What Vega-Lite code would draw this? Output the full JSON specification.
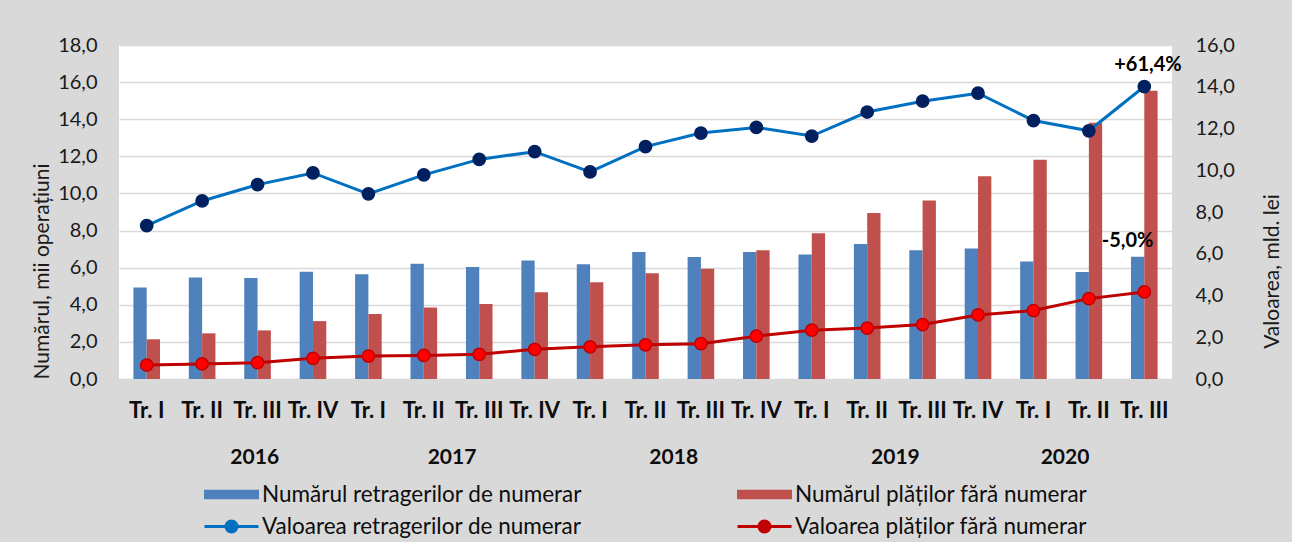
{
  "$schema": "https://vega.github.io/schema/vega-lite/v6.json",
  "width": 1053,
  "height": 334,
  "autosize": {"type": "none"},
  "padding": {"left": 119, "top": 45, "right": 120, "bottom": 163},
  "background": "#d9d9d9",
  "config": {
    "view": {"fill": "#ffffff", "stroke": null},
    "font": "Lato",
    "axis": {"labelFont": "Lato", "titleFont": "Lato", "labelColor": "#1a1a1a", "titleColor": "#1a1a1a", "titleFontWeight": "normal"}
  },
  "datasets": {
    "main": [
      {"q": "2016|Tr. I", "series": "Numărul retragerilor de numerar", "kind": "n", "value": 4.93},
      {"q": "2016|Tr. I", "series": "Numărul plăților fără numerar", "kind": "n", "value": 2.14},
      {"q": "2016|Tr. I", "series": "Valoarea retragerilor de numerar", "kind": "v", "value": 7.35},
      {"q": "2016|Tr. I", "series": "Valoarea plăților fără numerar", "kind": "v", "value": 0.67},
      {"q": "2016|Tr. II", "series": "Numărul retragerilor de numerar", "kind": "n", "value": 5.47},
      {"q": "2016|Tr. II", "series": "Numărul plăților fără numerar", "kind": "n", "value": 2.46},
      {"q": "2016|Tr. II", "series": "Valoarea retragerilor de numerar", "kind": "v", "value": 8.53},
      {"q": "2016|Tr. II", "series": "Valoarea plăților fără numerar", "kind": "v", "value": 0.72},
      {"q": "2016|Tr. III", "series": "Numărul retragerilor de numerar", "kind": "n", "value": 5.44},
      {"q": "2016|Tr. III", "series": "Numărul plăților fără numerar", "kind": "n", "value": 2.62},
      {"q": "2016|Tr. III", "series": "Valoarea retragerilor de numerar", "kind": "v", "value": 9.31},
      {"q": "2016|Tr. III", "series": "Valoarea plăților fără numerar", "kind": "v", "value": 0.78},
      {"q": "2016|Tr. IV", "series": "Numărul retragerilor de numerar", "kind": "n", "value": 5.78},
      {"q": "2016|Tr. IV", "series": "Numărul plăților fără numerar", "kind": "n", "value": 3.12},
      {"q": "2016|Tr. IV", "series": "Valoarea retragerilor de numerar", "kind": "v", "value": 9.87},
      {"q": "2016|Tr. IV", "series": "Valoarea plăților fără numerar", "kind": "v", "value": 0.99},
      {"q": "2017|Tr. I", "series": "Numărul retragerilor de numerar", "kind": "n", "value": 5.65},
      {"q": "2017|Tr. I", "series": "Numărul plăților fără numerar", "kind": "n", "value": 3.50},
      {"q": "2017|Tr. I", "series": "Valoarea retragerilor de numerar", "kind": "v", "value": 8.87},
      {"q": "2017|Tr. I", "series": "Valoarea plăților fără numerar", "kind": "v", "value": 1.10},
      {"q": "2017|Tr. II", "series": "Numărul retragerilor de numerar", "kind": "n", "value": 6.21},
      {"q": "2017|Tr. II", "series": "Numărul plăților fără numerar", "kind": "n", "value": 3.86},
      {"q": "2017|Tr. II", "series": "Valoarea retragerilor de numerar", "kind": "v", "value": 9.78},
      {"q": "2017|Tr. II", "series": "Valoarea plăților fără numerar", "kind": "v", "value": 1.13},
      {"q": "2017|Tr. III", "series": "Numărul retragerilor de numerar", "kind": "n", "value": 6.03},
      {"q": "2017|Tr. III", "series": "Numărul plăților fără numerar", "kind": "n", "value": 4.04},
      {"q": "2017|Tr. III", "series": "Valoarea retragerilor de numerar", "kind": "v", "value": 10.52},
      {"q": "2017|Tr. III", "series": "Valoarea plăților fără numerar", "kind": "v", "value": 1.18},
      {"q": "2017|Tr. IV", "series": "Numărul retragerilor de numerar", "kind": "n", "value": 6.39},
      {"q": "2017|Tr. IV", "series": "Numărul plăților fără numerar", "kind": "n", "value": 4.67},
      {"q": "2017|Tr. IV", "series": "Valoarea retragerilor de numerar", "kind": "v", "value": 10.89},
      {"q": "2017|Tr. IV", "series": "Valoarea plăților fără numerar", "kind": "v", "value": 1.42},
      {"q": "2018|Tr. I", "series": "Numărul retragerilor de numerar", "kind": "n", "value": 6.19},
      {"q": "2018|Tr. I", "series": "Numărul plăților fără numerar", "kind": "n", "value": 5.22},
      {"q": "2018|Tr. I", "series": "Valoarea retragerilor de numerar", "kind": "v", "value": 9.92},
      {"q": "2018|Tr. I", "series": "Valoarea plăților fără numerar", "kind": "v", "value": 1.54},
      {"q": "2018|Tr. II", "series": "Numărul retragerilor de numerar", "kind": "n", "value": 6.85},
      {"q": "2018|Tr. II", "series": "Numărul plăților fără numerar", "kind": "n", "value": 5.70},
      {"q": "2018|Tr. II", "series": "Valoarea retragerilor de numerar", "kind": "v", "value": 11.13},
      {"q": "2018|Tr. II", "series": "Valoarea plăților fără numerar", "kind": "v", "value": 1.64},
      {"q": "2018|Tr. III", "series": "Numărul retragerilor de numerar", "kind": "n", "value": 6.57},
      {"q": "2018|Tr. III", "series": "Numărul plăților fără numerar", "kind": "n", "value": 5.94},
      {"q": "2018|Tr. III", "series": "Valoarea retragerilor de numerar", "kind": "v", "value": 11.78},
      {"q": "2018|Tr. III", "series": "Valoarea plăților fără numerar", "kind": "v", "value": 1.69},
      {"q": "2018|Tr. IV", "series": "Numărul retragerilor de numerar", "kind": "n", "value": 6.84},
      {"q": "2018|Tr. IV", "series": "Numărul plăților fără numerar", "kind": "n", "value": 6.94},
      {"q": "2018|Tr. IV", "series": "Valoarea retragerilor de numerar", "kind": "v", "value": 12.05},
      {"q": "2018|Tr. IV", "series": "Valoarea plăților fără numerar", "kind": "v", "value": 2.05},
      {"q": "2019|Tr. I", "series": "Numărul retragerilor de numerar", "kind": "n", "value": 6.71},
      {"q": "2019|Tr. I", "series": "Numărul plăților fără numerar", "kind": "n", "value": 7.86},
      {"q": "2019|Tr. I", "series": "Valoarea retragerilor de numerar", "kind": "v", "value": 11.64},
      {"q": "2019|Tr. I", "series": "Valoarea plăților fără numerar", "kind": "v", "value": 2.34},
      {"q": "2019|Tr. II", "series": "Numărul retragerilor de numerar", "kind": "n", "value": 7.28},
      {"q": "2019|Tr. II", "series": "Numărul plăților fără numerar", "kind": "n", "value": 8.94},
      {"q": "2019|Tr. II", "series": "Valoarea retragerilor de numerar", "kind": "v", "value": 12.79},
      {"q": "2019|Tr. II", "series": "Valoarea plăților fără numerar", "kind": "v", "value": 2.44},
      {"q": "2019|Tr. III", "series": "Numărul retragerilor de numerar", "kind": "n", "value": 6.94},
      {"q": "2019|Tr. III", "series": "Numărul plăților fără numerar", "kind": "n", "value": 9.62},
      {"q": "2019|Tr. III", "series": "Valoarea retragerilor de numerar", "kind": "v", "value": 13.31},
      {"q": "2019|Tr. III", "series": "Valoarea plăților fără numerar", "kind": "v", "value": 2.61},
      {"q": "2019|Tr. IV", "series": "Numărul retragerilor de numerar", "kind": "n", "value": 7.03},
      {"q": "2019|Tr. IV", "series": "Numărul plăților fără numerar", "kind": "n", "value": 10.93},
      {"q": "2019|Tr. IV", "series": "Valoarea retragerilor de numerar", "kind": "v", "value": 13.69},
      {"q": "2019|Tr. IV", "series": "Valoarea plăților fără numerar", "kind": "v", "value": 3.07},
      {"q": "2020|Tr. I", "series": "Numărul retragerilor de numerar", "kind": "n", "value": 6.33},
      {"q": "2020|Tr. I", "series": "Numărul plăților fără numerar", "kind": "n", "value": 11.82},
      {"q": "2020|Tr. I", "series": "Valoarea retragerilor de numerar", "kind": "v", "value": 12.38},
      {"q": "2020|Tr. I", "series": "Valoarea plăților fără numerar", "kind": "v", "value": 3.28},
      {"q": "2020|Tr. II", "series": "Numărul retragerilor de numerar", "kind": "n", "value": 5.76},
      {"q": "2020|Tr. II", "series": "Numărul plăților fără numerar", "kind": "n", "value": 13.81},
      {"q": "2020|Tr. II", "series": "Valoarea retragerilor de numerar", "kind": "v", "value": 11.89},
      {"q": "2020|Tr. II", "series": "Valoarea plăților fără numerar", "kind": "v", "value": 3.85},
      {"q": "2020|Tr. III", "series": "Numărul retragerilor de numerar", "kind": "n", "value": 6.59, "note": "-5,0%"},
      {"q": "2020|Tr. III", "series": "Numărul plăților fără numerar", "kind": "n", "value": 15.53, "note": "+61,4%"},
      {"q": "2020|Tr. III", "series": "Valoarea retragerilor de numerar", "kind": "v", "value": 14.01},
      {"q": "2020|Tr. III", "series": "Valoarea plăților fără numerar", "kind": "v", "value": 4.17}
    ],
    "years": [
      {"year": 2016}, {"year": 2017}, {"year": 2018}, {"year": 2019}, {"year": 2020}
    ]
  },
  "layer": [
    {
      "data": {"name": "main"},
      "layer": [
        {
          "transform": [{"filter": "datum.kind == 'n'"}],
          "encoding": {
            "x": {
              "field": "q", "type": "nominal", "sort": null,
              "scale": {"paddingInner": 0.52, "paddingOuter": 0.26},
              "axis": {
                "title": null, "labelExpr": "split(datum.label, '|')[1]",
                "labelFontSize": 22, "labelFontWeight": "bold", "labelAngle": 0,
                "ticks": false, "domain": false, "labelPadding": 21,
                "labelOverlap": false, "labelBound": false, "grid": false, "labelColor": "#0d0d0d"
              }
            },
            "xOffset": {"field": "series", "type": "nominal", "sort": ["Numărul retragerilor de numerar", "Numărul plăților fără numerar"], "scale": {"paddingInner": 0}},
            "y": {
              "field": "value", "type": "quantitative",
              "scale": {"domain": [0, 18], "nice": false},
              "axis": {
                "title": "Numărul, mii operațiuni",
                "values": [0, 2, 4, 6, 8, 10, 12, 14, 16, 18],
                "tickCount": 10,
                "labelExpr": "replace(format(datum.value, '.1f'), '.', ',')",
                "labelFontSize": 20, "titleFontSize": 21, "labelOverlap": false,
                "grid": true, "gridColor": "#d9d9d9", "gridWidth": 1.5,
                "ticks": false, "domain": false, "labelPadding": 22,
                "titleX": -77, "titleY": 226, "titleAngle": 270, "titleAlign": "center", "titleBaseline": "middle"
              }
            }
          },
          "layer": [
            {
              "mark": {"type": "bar"},
              "encoding": {
                "color": {
                  "field": "series", "type": "nominal",
                  "scale": {
                    "domain": ["Numărul retragerilor de numerar", "Numărul plăților fără numerar", "Valoarea retragerilor de numerar", "Valoarea plăților fără numerar"],
                    "range": ["#4F81BD", "#C0504D", "#0070C0", "#C00000"]
                  },
                  "legend": {
                    "title": null, "orient": "none", "legendX": 101, "legendY": 438,
                    "direction": "horizontal", "columns": 2,
                    "symbolSize": 400, "labelFontSize": 22.5, "labelFont": "Lato", "labelColor": "#0d0d0d",
                    "labelLimit": 500, "labelOffset": 19, "columnPadding": 149, "rowPadding": 9,
                    "symbolStrokeWidth": 3,
                    "encode": {
                      "symbols": {
                        "update": {
                          "shape": {"signal": "indexof(datum.value, 'Numărul') == 0 ? 'M-2.6,-0.33H2.6V0.33H-2.6Z' : 'M-2.7,0H-0.55M0.55,0H2.7M0.55,0A0.55,0.55 0 1 1 -0.55,0A0.55,0.55 0 1 1 0.55,0Z'"},
                          "fill": {"signal": "datum.value == 'Numărul retragerilor de numerar' ? '#4F81BD' : datum.value == 'Numărul plăților fără numerar' ? '#C0504D' : datum.value == 'Valoarea retragerilor de numerar' ? '#002060' : '#FF0000'"},
                          "stroke": {"signal": "datum.value == 'Valoarea retragerilor de numerar' ? '#0070C0' : datum.value == 'Valoarea plăților fără numerar' ? '#C00000' : 'transparent'"},
                          "strokeWidth": {"value": 3},
                          "fillOpacity": {"value": 1},
                          "strokeOpacity": {"value": 1},
                          "opacity": {"value": 1}
                        }
                      }
                    }
                  }
                }
              }
            },
            {
              "transform": [{"filter": "datum.note != null && datum.series == 'Numărul plăților fără numerar'"}],
              "mark": {"type": "text", "fontWeight": "bold", "fontSize": 20, "font": "Lato", "dx": -3, "dy": -20, "baseline": "alphabetic", "align": "center", "color": "#000000"},
              "encoding": {"text": {"field": "note"}}
            },
            {
              "transform": [{"filter": "datum.note != null && datum.series == 'Numărul retragerilor de numerar'"}],
              "mark": {"type": "text", "fontWeight": "bold", "fontSize": 20, "font": "Lato", "dx": -10, "dy": -10, "baseline": "alphabetic", "align": "center", "color": "#000000"},
              "encoding": {"text": {"field": "note"}}
            }
          ]
        },
        {
          "transform": [{"filter": "datum.kind == 'v'"}],
          "encoding": {
            "x": {"field": "q", "type": "nominal", "sort": null},
            "y": {
              "field": "value", "type": "quantitative",
              "scale": {"domain": [0, 16], "nice": false},
              "axis": {
                "orient": "right", "title": "Valoarea, mld. lei",
                "values": [0, 2, 4, 6, 8, 10, 12, 14, 16],
                "labelExpr": "replace(format(datum.value, '.1f'), '.', ',')",
                "labelFontSize": 20, "titleFontSize": 21, "grid": false, "labelOverlap": false,
                "ticks": false, "domain": false, "labelPadding": 23,
                "titleX": 100, "titleY": 226, "titleAngle": 270, "titleAlign": "center", "titleBaseline": "middle"
              }
            }
          },
          "layer": [
            {
              "mark": {"type": "line", "strokeWidth": 3},
              "encoding": {"color": {"field": "series", "type": "nominal"}}
            },
            {
              "mark": {"type": "point", "filled": true, "size": 150, "strokeWidth": 1.5, "opacity": 1},
              "encoding": {
                "fill": {
                  "field": "series", "type": "nominal",
                  "scale": {"domain": ["Valoarea retragerilor de numerar", "Valoarea plăților fără numerar"], "range": ["#002060", "#FF0000"]},
                  "legend": null
                },
                "stroke": {
                  "field": "series", "type": "nominal",
                  "scale": {"domain": ["Valoarea retragerilor de numerar", "Valoarea plăților fără numerar"], "range": ["#002060", "#C00000"]},
                  "legend": null
                }
              }
            }
          ]
        }
      ],
      "resolve": {"scale": {"y": "independent"}}
    },
    {
      "data": {"name": "years"},
      "mark": {"type": "point", "opacity": 0},
      "encoding": {
        "x": {
          "field": "year", "type": "quantitative",
          "scale": {"domain": [2016, 2019, 2020], "range": [{"expr": "width * 2 / 19"}, {"expr": "width * 14 / 19"}, {"expr": "width * 17.5 / 19"}], "nice": false, "zero": false},
          "axis": {
            "orient": "bottom", "title": null, "values": [2016, 2017, 2018, 2019, 2020], "format": "d",
            "labelFontSize": 21, "labelFontWeight": "bold", "ticks": false, "domain": false, "grid": false,
            "labelPadding": 67, "labelColor": "#0d0d0d"
          }
        }
      }
    }
  ],
  "resolve": {"scale": {"x": "independent"}}
}
